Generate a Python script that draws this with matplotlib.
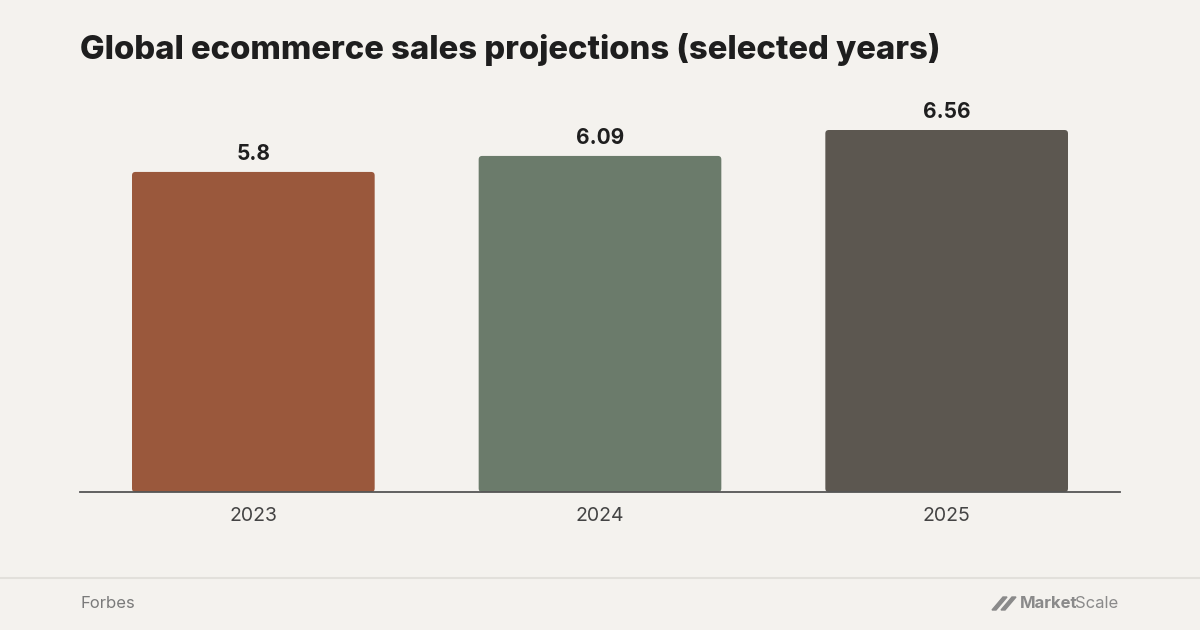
import matplotlib.pyplot as plt
from matplotlib.patches import FancyBboxPatch, Polygon

# Data
years = ['2023', '2024', '2025']
sales = [5.8, 6.09, 6.56]
bar_colors = ['#9A583C', '#6B7B6B', '#5C5750']
title = 'Global ecommerce sales projections (selected years)'
source = 'Forbes'

BG = '#F4F2EE'
plt.rcParams['font.family'] = ['Inter', 'DejaVu Sans']

fig = plt.figure(figsize=(12, 6.3), dpi=100, facecolor=BG)
W, H = 1200, 630

# axes: x 80..1120 px, baseline at y=492 px
ax = fig.add_axes([80 / W, (H - 492) / H, 1040 / W, 392 / H], facecolor=BG)
ymax = 392 * 6.56 / 362

x = list(range(len(years)))
bars = ax.bar(x, sales, width=0.7, color=bar_colors)
# swap plain rectangles for slightly rounded ones
px_x = 1040 / 3.0
px_y = 392 / ymax
for rect in bars:
    rect.set_visible(False)
    fb = FancyBboxPatch((rect.get_x(), 0), rect.get_width(), rect.get_height(),
                        boxstyle='round,pad=0,rounding_size=%f' % (3.5 / px_x),
                        mutation_aspect=px_x / px_y,
                        facecolor=rect.get_facecolor(), edgecolor='none')
    ax.add_patch(fb)

for xi, v in zip(x, sales):
    ax.annotate(f'{v:g}', (xi, v), xytext=(0, 6), textcoords='offset points',
                ha='center', va='bottom', fontsize=15, fontweight='bold', color='#1F1F1F')

ax.set_xlim(-0.5, 2.5)
ax.set_ylim(0, ymax)
ax.set_xticks(x)
ax.set_xticklabels(years, fontsize=14, color='#444444')
ax.tick_params(axis='x', length=0, pad=11)
ax.set_yticks([])
for s in ['top', 'right', 'left']:
    ax.spines[s].set_visible(False)
ax.spines['bottom'].set_color('#555555')
ax.spines['bottom'].set_linewidth(1.3)

fig.text(80 / W, 1 - 49 / H, title, fontsize=23.6, fontweight='heavy',
         color='#1E1E1E', va='center', ha='left')

# footer
fig.add_artist(plt.Line2D([0, 1], [1 - 578 / H] * 2, color='#E2E0DB', lw=1.5))
fig.text(80 / W, 1 - 603 / H, source, fontsize=12, color='#7A7A7A', va='center')

# logo
logo_col = '#8A8A8A'
yb, yt = 1 - 610 / H, 1 - 597 / H
for off in [0, 9]:
    xs = [992 + off, 1003 + off, 1007 + off, 996 + off]
    fig.add_artist(Polygon([(xs[0] / W, yb), (xs[1] / W, yt), (xs[2] / W, yt), (xs[3] / W, yb)],
                           closed=True, color=logo_col, transform=fig.transFigure))
fig.text(1020 / W, 1 - 604 / H, 'Market', fontsize=12, fontweight='bold',
         color=logo_col, va='center', ha='left')
fig.text(1118 / W, 1 - 604 / H, 'Scale', fontsize=12, color=logo_col,
         va='center', ha='right')

fig.savefig('out.png', dpi=100, facecolor=BG)
